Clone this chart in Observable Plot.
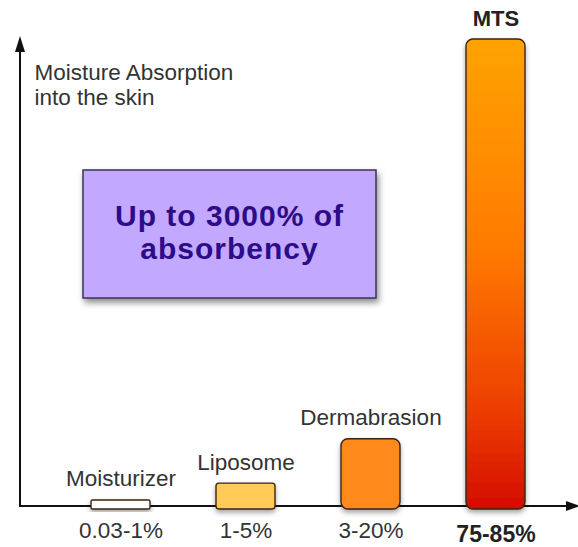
<!DOCTYPE html>
<html><head><meta charset="utf-8">
<script src="https://cdn.jsdelivr.net/npm/d3@7"></script>
<script src="https://cdn.jsdelivr.net/npm/@observablehq/plot@0.6"></script>
<style>body{margin:0;background:#fff} #chart svg{display:block}</style>
</head><body><div id="chart"></div>
<script>
const products = ["Moisturizer", "Liposome", "Dermabrasion", "MTS"];
const ranges = ["0.03-1%", "1-5%", "3-20%", "75-85%"];
const absorption = [1.3, 4.9, 14.4, 100]; // bar height, relative to MTS = 100
const fills = ["#ffffff", "#ffcb57", "#ff8a1f", "url(#mtsGrad)"];
const yAxisLabel = "Moisture Absorption\ninto the skin";
const boxText = ["Up to 3000% of", "absorbency"];

const data = products.map((p, i) => ({product: p, range: ranges[i], value: absorption[i], fill: fills[i], last: i === products.length - 1}));
const W = 578, H = 547;
const font = "'Liberation Sans', Arial, Helvetica, sans-serif";

const chart = Plot.plot({
  width: W, height: H,
  marginLeft: 20, marginRight: 2, marginTop: 39, marginBottom: 41,
  style: {fontFamily: font, background: "#fff", overflow: "visible"},
  x: {domain: products, range: [40.5, 574.5], paddingInner: 0.528, paddingOuter: 0.4, axis: null},
  y: {domain: [0, 100], axis: null},
  color: {type: "identity"},
  marks: [
    Plot.barY(data, {x: "product", y: "value", fill: "fill", stroke: "#3a2412", strokeWidth: 1.4, rx: 6, insetBottom: -3, className: "bars"}),
    Plot.text(data.filter(d => !d.last), {x: "product", y: "value", text: "product", dy: -14, lineAnchor: "bottom", fontSize: 22.5, fill: "#333"}),
    Plot.text(data.filter(d => d.last), {x: "product", y: "value", text: "product", dy: -14, lineAnchor: "bottom", fontSize: 22, fontWeight: "bold", fill: "#222"}),
    Plot.text(data.filter(d => !d.last), {x: "product", text: "range", frameAnchor: "bottom", dy: 31, lineAnchor: "bottom", fontSize: 22.5, fill: "#333"}),
    Plot.text(data.filter(d => d.last), {x: "product", text: "range", frameAnchor: "bottom", dy: 35, lineAnchor: "bottom", fontSize: 23, fontWeight: "bold", fill: "#222"}),
    Plot.text([yAxisLabel], {frameAnchor: "top-left", text: d => d, textAnchor: "start", lineAnchor: "top", dx: 14, dy: 22, fontSize: 22.5, lineHeight: 1.13, fill: "#333"})
  ]
});

const svg = d3.select(chart);
const defs = svg.insert("defs", ":first-child");
const g = defs.append("linearGradient").attr("id", "mtsGrad").attr("x1", 0).attr("y1", 0).attr("x2", 0).attr("y2", 1);
[[0, "#ffa300"], [0.45, "#ff7a00"], [0.8, "#ec3c00"], [1, "#d40c00"]].forEach(([o, c]) => g.append("stop").attr("offset", o).attr("stop-color", c));
const sh = defs.append("filter").attr("id", "shadow").attr("x", "-30%").attr("y", "-30%").attr("width", "160%").attr("height", "160%");
sh.append("feDropShadow").attr("dx", 0).attr("dy", 3).attr("stdDeviation", 2.5).attr("flood-color", "#000").attr("flood-opacity", 0.35);
const sh2 = defs.append("filter").attr("id", "shadow2").attr("x", "-20%").attr("y", "-20%").attr("width", "140%").attr("height", "150%");
sh2.append("feDropShadow").attr("dx", 2).attr("dy", 4).attr("stdDeviation", 3).attr("flood-color", "#000").attr("flood-opacity", 0.45);
svg.selectAll(".bars rect").attr("filter", "url(#shadow)").each(function() {
  const h = +this.getAttribute("height");
  const r = Math.min(7, Math.max(1.5, h / 9));
  this.setAttribute("rx", r); this.setAttribute("ry", r);
});

// axes with arrowheads, positioned from the plot's scales
const sy = chart.scale("y");
const y0 = sy.apply(0), yTop = sy.apply(100) - 3;
const x0 = 20, xEnd = W + 2;
const axes = svg.insert("g", ".bars");
axes.append("line").attr("x1", x0).attr("y1", y0).attr("x2", xEnd - 10).attr("y2", y0).attr("stroke", "#111").attr("stroke-width", 1.8);
axes.append("line").attr("x1", x0).attr("y1", y0 + 1).attr("x2", x0).attr("y2", yTop + 10).attr("stroke", "#111").attr("stroke-width", 2);
axes.append("path").attr("d", `M${x0},${yTop} L${x0 - 5},${yTop + 16} L${x0 + 5},${yTop + 16} Z`).attr("fill", "#111");
axes.append("path").attr("d", `M${xEnd},${y0} L${xEnd - 14},${y0 - 5} L${xEnd - 14},${y0 + 5} Z`).attr("fill", "#111");

// annotation box
const box = svg.append("g");
box.append("rect").attr("x", 83).attr("y", 170).attr("width", 293).attr("height", 128)
  .attr("fill", "#c2a8ff").attr("stroke", "#3b3352").attr("stroke-width", 1.5).attr("filter", "url(#shadow2)");
box.selectAll("text").data(boxText).join("text")
  .attr("x", 229.5).attr("y", (d, i) => 226 + i * 33).attr("text-anchor", "middle")
  .attr("font-family", font).attr("font-weight", "bold").attr("font-size", 30).attr("letter-spacing", 1)
  .attr("fill", "#2c0c87").text(d => d);

document.getElementById("chart").append(chart);
</script>
</body></html>
